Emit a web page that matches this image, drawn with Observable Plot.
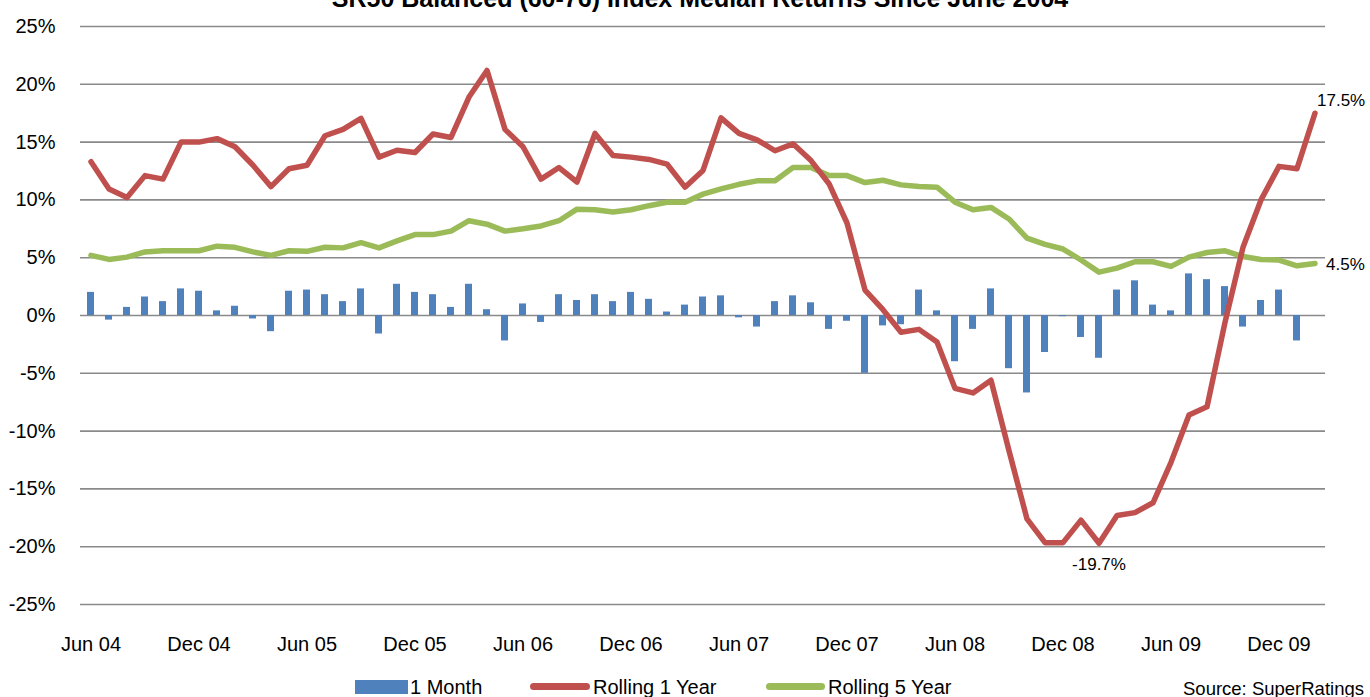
<!DOCTYPE html>
<html>
<head>
<meta charset="utf-8">
<script src="https://cdn.jsdelivr.net/npm/d3@7"></script>
<script src="https://cdn.jsdelivr.net/npm/@observablehq/plot@0.6"></script>
<style>
  html, body { margin: 0; padding: 0; background: #fff; }
  body { width: 1370px; height: 697px; overflow: hidden; position: relative;
         font-family: "Liberation Sans", Arial, sans-serif; color: #000; }
  #title { position: absolute; left: 15px; width: 1370px; text-align: center; top: -14px;
           font-size: 25px; line-height: 25px; font-weight: bold; white-space: nowrap; }
  #chart { position: absolute; left: 0; top: 0; }
  .lg { position: absolute; font-size: 20px; line-height: 20px; white-space: nowrap; }
  .sw { position: absolute; }
</style>
</head>
<body>
<div id="title">SR50 Balanced (60-76) Index Median Returns Since June 2004</div>
<div id="chart"></div>
<div class="sw" style="left:355px;top:680px;width:53px;height:14px;background:#4f81bd"></div>
<div class="lg" style="left:410px;top:677px">1 Month</div>
<div class="sw" style="left:530px;top:683px;width:60px;height:7px;border-radius:4px;background:#c0504d"></div>
<div class="lg" style="left:593px;top:677px">Rolling 1 Year</div>
<div class="sw" style="left:766px;top:683px;width:59px;height:7px;border-radius:4px;background:#9bbb59"></div>
<div class="lg" style="left:828px;top:677px">Rolling 5 Year</div>
<div class="lg" style="left:1183px;top:680px;font-size:18.5px;line-height:18.5px">Source: SuperRatings</div>
<script>
// Months Jun 2004 .. Feb 2010
const months = d3.utcMonth.range(new Date(Date.UTC(2004, 5, 1)), new Date(Date.UTC(2010, 2, 1))).map(d3.utcFormat("%b %y"));

// 1 Month returns (%), Jun 04 .. Jan 10 (no bar for Feb 10)
const oneMonth = [
  2.0, -0.4, 0.7, 1.6, 1.2, 2.3, 2.1, 0.4, 0.8, -0.3, -1.4, 2.1,
  2.2, 1.8, 1.2, 2.3, -1.6, 2.7, 2.0, 1.8, 0.7, 2.7, 0.5, -2.2,
  1.0, -0.6, 1.8, 1.3, 1.8, 1.2, 2.0, 1.4, 0.3, 0.9, 1.6, 1.7,
  -0.2, -1.0, 1.2, 1.7, 1.1, -1.2, -0.5, -5.0, -0.9, -0.8, 2.2, 0.4,
  -4.0, -1.2, 2.3, -4.6, -6.7, -3.2, -0.1, -1.9, -3.7, 2.2, 3.0, 0.9,
  0.4, 3.6, 3.1, 2.5, -1.0, 1.3, 2.2, -2.2, null
];

// Rolling 1 Year returns (%)
const rolling1 = [
  13.3, 10.95, 10.2, 12.1, 11.8, 15.0, 15.0, 15.3, 14.6, 13.0, 11.15, 12.7,
  13.0, 15.55, 16.1, 17.05, 13.7, 14.3, 14.1, 15.7, 15.4, 18.9, 21.2, 16.1,
  14.6, 11.8, 12.8, 11.55, 15.75, 13.85, 13.7, 13.5, 13.1, 11.1, 12.55, 17.1,
  15.75, 15.2, 14.25, 14.85, 13.4, 11.4, 8.0, 2.2, 0.5, -1.45, -1.2, -2.3,
  -6.3, -6.7, -5.6, -11.7, -17.6, -19.65, -19.65, -17.7, -19.7, -17.3, -17.05, -16.2,
  -12.7, -8.6, -7.9, -0.6, 5.9, 10.0, 12.9, 12.7, 17.5
];

// Rolling 5 Year returns (%)
const rolling5 = [
  5.2, 4.85, 5.05, 5.5, 5.6, 5.6, 5.6, 6.0, 5.9, 5.5, 5.2, 5.6,
  5.55, 5.9, 5.85, 6.3, 5.85, 6.45, 7.0, 7.0, 7.3, 8.2, 7.9, 7.3,
  7.5, 7.75, 8.2, 9.2, 9.15, 8.95, 9.15, 9.5, 9.8, 9.8, 10.5, 10.95,
  11.35, 11.65, 11.65, 12.8, 12.8, 12.1, 12.1, 11.5, 11.7, 11.3, 11.15, 11.1,
  9.8, 9.15, 9.35, 8.35, 6.7, 6.15, 5.75, 4.8, 3.75, 4.1, 4.65, 4.65,
  4.25, 5.05, 5.45, 5.6, 5.1, 4.85, 4.8, 4.3, 4.5
];

const xTickLabels = ["Jun 04","Dec 04","Jun 05","Dec 05","Jun 06","Dec 06","Jun 07","Dec 07","Jun 08","Dec 08","Jun 09","Dec 09"];
const yTicks = [-25, -20, -15, -10, -5, 0, 5, 10, 15, 20, 25];

const bars = months.map((m, i) => ({month: m, value: oneMonth[i]})).filter(d => d.value != null);
const r1 = months.map((m, i) => ({month: m, value: rolling1[i]}));
const r5 = months.map((m, i) => ({month: m, value: rolling5[i]}));
const pct = d => d.toFixed(1) + "%";
const r1Min = [d3.least(r1, d => d.value)];
const r1Last = [r1[r1.length - 1]];
const r5Last = [r5[r5.length - 1]];

const FONT = '"Liberation Sans", Arial, sans-serif';

const chart = Plot.plot({
  width: 1370,
  height: 660,
  marginTop: 26,
  marginBottom: 56,
  marginLeft: 80,
  marginRight: 45,
  style: {fontFamily: FONT, fontSize: "20px", color: "#000", background: "transparent", overflow: "visible"},
  x: {type: "band", domain: months, paddingInner: 0.6, paddingOuter: 0.3, ticks: xTickLabels, tickSize: 0, tickPadding: 32, label: null},
  y: {domain: [-25, 25], ticks: yTicks, tickFormat: d => d + "%", tickSize: 0, tickPadding: 25, label: null},
  marks: [
    Plot.ruleY(yTicks, {stroke: "#8a8a8a", strokeWidth: 1.6}),
    Plot.barY(bars, {x: "month", y: "value", fill: "#4f81bd"}),
    Plot.line(r5, {x: "month", y: "value", stroke: "#9bbb59", strokeWidth: 5.5, strokeLinejoin: "round", strokeLinecap: "round"}),
    Plot.line(r1, {x: "month", y: "value", stroke: "#c0504d", strokeWidth: 5.5, strokeLinejoin: "round", strokeLinecap: "round"}),
    Plot.text(r1Last, {x: "month", y: "value", text: d => pct(d.value), textAnchor: "start", dx: 2, dy: -13, fontSize: 17, fill: "#000"}),
    Plot.text(r5Last, {x: "month", y: "value", text: d => pct(d.value), textAnchor: "start", dx: 11, dy: 1, fontSize: 17, fill: "#000"}),
    Plot.text(r1Min, {x: "month", y: "value", text: d => pct(d.value), textAnchor: "middle", dy: 21, fontSize: 17, fill: "#000"})
  ]
});
document.getElementById("chart").appendChild(chart);
</script>
</body>
</html>
